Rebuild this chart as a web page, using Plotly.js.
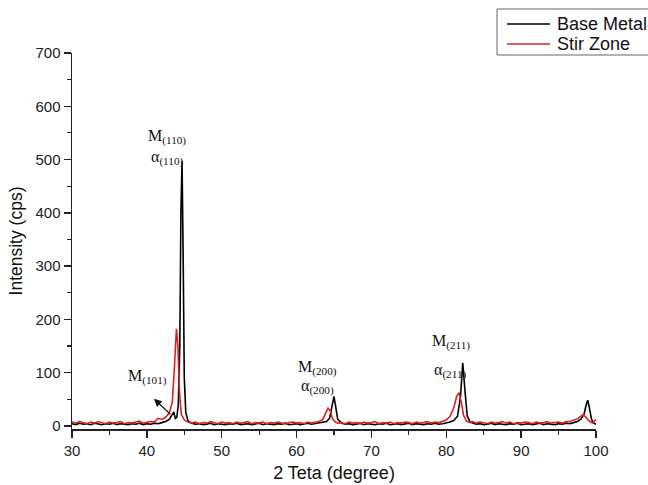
<!DOCTYPE html>
<html>
<head>
<meta charset="utf-8">
<script src="https://cdn.plot.ly/plotly-3.0.1.min.js"></script>
<style>html,body{margin:0;padding:0;background:#fff;}#chart{width:648px;height:485px;}</style>
</head>
<body>
<div id="chart"></div>
<script>
// Base Metal
var baseX = [30,30.5,31,31.5,32,32.5,33,33.5,34,34.5,35,35.5,36,36.5,37,37.5,38,38.5,39,39.5,40,40.5,41,41.5,42,42.5,43,43.3,43.6,43.8,44,44.2,44.4,44.55,44.7,44.85,45,45.2,45.5,46,46.5,47,47.5,48,48.5,49,49.5,50,50.5,51,51.5,52,52.5,53,53.5,54,54.5,55,55.5,56,56.5,57,57.5,58,58.5,59,59.5,60,60.5,61,61.5,62,62.5,63,63.5,64,64.4,64.7,65,65.2,65.5,66,66.5,67,67.5,68,68.5,69,69.5,70,70.5,71,71.5,72,72.5,73,73.5,74,74.5,75,75.5,76,76.5,77,77.5,78,78.5,79,79.5,80,80.5,81,81.5,81.9,82.2,82.5,82.8,83.2,83.5,84,84.5,85,85.5,86,86.5,87,87.5,88,88.5,89,89.5,90,90.5,91,91.5,92,92.5,93,93.5,94,94.5,95,95.5,96,96.5,97,97.5,98,98.4,98.7,98.9,99.1,99.4,99.7,100];
var baseY = [4,2,5,3,4,2,5,3,2,4,3,5,2,4,3,2,4,3,5,2,4,3,5,4,6,8,12,18,26,14,16,40,150,400,497,320,90,25,9,5,3,4,2,3,5,2,4,3,2,4,3,5,2,3,4,2,3,5,2,4,3,2,4,3,5,2,3,4,2,3,5,3,4,5,6,8,14,38,55,38,12,5,3,4,2,3,5,2,4,3,2,4,3,5,2,3,4,2,3,5,2,4,3,2,4,3,5,3,4,5,7,10,18,55,118,65,18,7,5,3,4,2,3,5,2,4,3,2,4,3,5,2,3,4,2,3,5,2,4,3,2,4,3,5,4,6,8,13,22,40,48,35,12,5,3];
// Stir Zone
var stirX = [30,30.5,31,31.5,32,32.5,33,33.5,34,34.5,35,35.5,36,36.5,37,37.5,38,38.5,39,39.5,40,40.5,41,41.5,42,42.5,43,43.4,43.7,43.95,44.15,44.35,44.6,45,45.5,46,46.5,47,47.5,48,48.5,49,49.5,50,50.5,51,51.5,52,52.5,53,53.5,54,54.5,55,55.5,56,56.5,57,57.5,58,58.5,59,59.5,60,60.5,61,61.5,62,62.5,63,63.5,63.9,64.2,64.5,64.8,65.2,65.5,66,66.5,67,67.5,68,68.5,69,69.5,70,70.5,71,71.5,72,72.5,73,73.5,74,74.5,75,75.5,76,76.5,77,77.5,78,78.5,79,79.5,80,80.5,81,81.4,81.7,82,82.3,82.7,83.2,83.5,84,84.5,85,85.5,86,86.5,87,87.5,88,88.5,89,89.5,90,90.5,91,91.5,92,92.5,93,93.5,94,94.5,95,95.5,96,96.5,97,97.5,98,98.3,98.6,99,99.3,99.6,99.8,100];
var stirY = [7,5,8,6,4,7,5,8,6,4,7,5,6,8,4,6,5,7,9,5,6,8,7,14,12,16,24,45,115,182,150,65,22,11,7,5,7,4,6,5,8,6,4,7,5,6,4,7,5,6,8,4,6,5,7,4,6,5,7,5,4,6,7,5,6,4,7,5,7,8,12,24,33,28,13,7,5,6,4,7,5,6,4,7,5,6,8,4,6,5,7,4,6,5,7,6,4,7,5,6,8,5,7,6,8,11,18,34,56,62,45,20,9,6,8,5,7,6,4,7,5,6,8,5,7,4,6,5,7,6,4,7,5,6,8,5,6,7,5,8,8,10,13,18,21,17,10,7,5,9,12];

var seriesNames = ['Base Metal', 'Stir Zone'];
var seriesColors = ['#000000', '#dd2020'];
var xTicks = [30,40,50,60,70,80,90,100];
var yTicks = [0,100,200,300,400,500,600,700];

var traces = [
  {x: baseX, y: baseY, type: 'scatter', mode: 'lines', name: seriesNames[0],
   line: {color: seriesColors[0], width: 1.6}},
  {x: stirX, y: stirY, type: 'scatter', mode: 'lines', name: seriesNames[1],
   line: {color: seriesColors[1], width: 1.6}}
];

var serif = {family: 'Liberation Serif, Times New Roman, serif', size: 16, color: '#111'};
function lab(t, x, y) {
  return {x: x, y: y, xref: 'x', yref: 'y', text: t, showarrow: false, font: serif};
}

// legend drawn in paper coordinates
var legLineX0 = 0.8302, legLineX1 = 0.9122, legTextX = 0.9218;
var legRowY = [1.0771, 1.0239];
var shapes = [
  {type: 'rect', xref: 'paper', yref: 'paper', x0: 0.8111, x1: 1.11, y0: 0.9947, y1: 1.117,
   line: {color: '#666', width: 1}, fillcolor: '#fff', layer: 'above'}
];
var annotations = [
  lab('M<sub>(110)</sub>', 42.69, 542),
  lab('\u03b1<sub>(110)</sub>', 42.69, 503),
  lab('M<sub>(101)</sub>', 40.02, 92),
  lab('M<sub>(200)</sub>', 62.86, 109),
  lab('\u03b1<sub>(200)</sub>', 62.86, 73),
  lab('M<sub>(211)</sub>', 80.63, 158),
  lab('\u03b1<sub>(211)</sub>', 80.5, 103),
  {x: 40.95, y: 50.6, ax: 43.36, ay: 18.8, xref: 'x', yref: 'y', axref: 'x', ayref: 'y',
   text: '', showarrow: true, arrowhead: 2, arrowsize: 1.2, arrowwidth: 1.3, arrowcolor: '#111'}
];
for (var i = 0; i < seriesNames.length; i++) {
  shapes.push({type: 'line', xref: 'paper', yref: 'paper', x0: legLineX0, x1: legLineX1,
               y0: legRowY[i], y1: legRowY[i], line: {color: seriesColors[i], width: 1.5}, layer: 'above'});
  annotations.push({xref: 'paper', yref: 'paper', x: legTextX, y: legRowY[i], xanchor: 'left', yanchor: 'middle',
                    text: seriesNames[i], showarrow: false,
                    font: {family: 'Liberation Sans, Arial, sans-serif', size: 18, color: '#111'}});
}

var layout = {
  width: 648, height: 485,
  margin: {l: 72, r: 52, t: 53, b: 56},
  paper_bgcolor: '#fff', plot_bgcolor: '#fff',
  font: {family: 'Liberation Sans, Arial, sans-serif', size: 15, color: '#222'},
  showlegend: false,
  xaxis: {range: [30, 100], tickvals: xTicks, ticktext: xTicks.map(String),
          showgrid: false, zeroline: false, showline: true, linecolor: '#222', linewidth: 1.5,
          ticks: 'outside', ticklen: 7, tickwidth: 1.5, tickcolor: '#222',
          minor: {dtick: 5, ticks: 'outside', ticklen: 4, tickwidth: 1.2, tickcolor: '#222', showgrid: false},
          title: {text: '2 Teta (degree)', font: {size: 18, color: '#111'}, standoff: 9}},
  yaxis: {range: [-6, 700], tickvals: yTicks, ticktext: yTicks.map(String),
          showgrid: false, zeroline: false, showline: true, linecolor: '#222', linewidth: 1.5,
          ticks: 'outside', ticklen: 7, tickwidth: 1.5, tickcolor: '#222',
          minor: {dtick: 50, ticks: 'outside', ticklen: 4, tickwidth: 1.2, tickcolor: '#222', showgrid: false},
          title: {text: 'Intensity (cps)', font: {size: 17.5, color: '#111'}, standoff: 8}},
  shapes: shapes,
  annotations: annotations
};

Plotly.newPlot('chart', traces, layout, {displayModeBar: false, staticPlot: true});
</script>
</body>
</html>
